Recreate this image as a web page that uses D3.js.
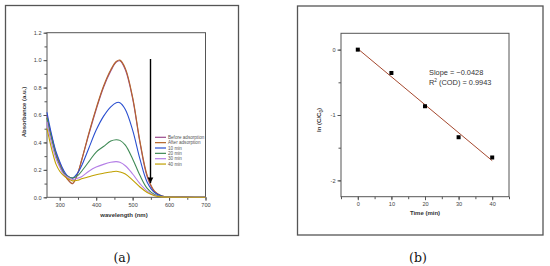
<!DOCTYPE html>
<meta charset="utf-8">
<style>
  body { margin: 0; background: #fff; }
  svg { position: absolute; left: 0; top: 0; }
  text { font-family: Arial, "Liberation Sans", sans-serif; fill: #333; }
  .frame { fill: none; stroke: #555; stroke-width: 1.3px; }
  .box { fill: none; stroke: #555; stroke-width: 1px; }
  .tick line { stroke: #555; }
  .tick text { font-size: 5.6px; fill: #444; }
  .title { font-size: 6px; font-weight: bold; text-anchor: middle; }
  .cap { font-family: "DejaVu Serif", serif; font-size: 12.5px; fill: #111; text-anchor: middle; }
  .leg { font-size: 4.6px; fill: #555; }
</style>
<script src="https://d3js.org/d3.v7.min.js"></script>
<svg width="550" height="266"></svg>
<script>
  // panel (a) data
  var wavelength = [265, 270, 280, 290, 300, 310, 320, 335, 350, 360, 380, 400, 420, 440, 455, 465, 480, 500, 520, 540, 560, 580, 600, 650, 700];
  var beforeAds = [0.60, 0.53, 0.42, 0.32, 0.25, 0.19, 0.14, 0.10, 0.18, 0.27, 0.46, 0.64, 0.80, 0.92, 0.985, 0.995, 0.93, 0.72, 0.40, 0.15, 0.04, 0.01, 0.003, 0.001, 0];
  var afterAds = [0.58, 0.52, 0.41, 0.31, 0.24, 0.18, 0.135, 0.10, 0.18, 0.27, 0.47, 0.65, 0.81, 0.93, 0.99, 1.0, 0.94, 0.73, 0.41, 0.16, 0.045, 0.01, 0.003, 0.001, 0];
  var min10 = [0.62, 0.55, 0.43, 0.33, 0.26, 0.20, 0.16, 0.14, 0.18, 0.23, 0.36, 0.49, 0.59, 0.66, 0.69, 0.69, 0.64, 0.49, 0.28, 0.11, 0.035, 0.01, 0.003, 0, 0];
  var min20 = [0.58, 0.51, 0.40, 0.30, 0.23, 0.18, 0.155, 0.14, 0.16, 0.19, 0.26, 0.33, 0.37, 0.41, 0.42, 0.415, 0.38, 0.28, 0.16, 0.065, 0.02, 0.006, 0.002, 0, 0];
  var min30 = [0.55, 0.48, 0.37, 0.28, 0.22, 0.17, 0.15, 0.13, 0.14, 0.15, 0.19, 0.22, 0.24, 0.255, 0.26, 0.255, 0.23, 0.17, 0.10, 0.045, 0.015, 0.004, 0.001, 0, 0];
  var min40 = [0.50, 0.44, 0.33, 0.24, 0.19, 0.16, 0.14, 0.12, 0.125, 0.135, 0.15, 0.165, 0.175, 0.185, 0.19, 0.185, 0.17, 0.125, 0.075, 0.035, 0.012, 0.003, 0.001, 0, 0];
  var seriesNames = ["Before adsorption", "After adsorption", "10 min", "20 min", "30 min", "40 min"];
  var seriesColors = ["#9a4a8c", "#b5652a", "#2a4fd0", "#3f8a55", "#b47ee6", "#c0a000"];
  var xTicksA = [300, 400, 500, 600, 700];
  var yTicksA = [0, 0.2, 0.4, 0.6, 0.8, 1.0, 1.2];

  // panel (b) data
  var time = [0, 10, 20, 30, 40];
  var lnC = [0, -0.357, -0.866, -1.34, -1.65];
  var slope = -0.0428, intercept = 0.013;
  var xTicksB = [0, 10, 20, 30, 40];
  var yTicksB = [0, -1, -2];

  var svg = d3.select("svg");

  // outer frames and captions
  svg.append("rect").attr("class", "frame").attr("x", 5.5).attr("y", 5.5).attr("width", 233).attr("height", 230);
  svg.append("rect").attr("class", "frame").attr("x", 297.5).attr("y", 6).attr("width", 245.5).attr("height", 229);
  svg.append("text").attr("class", "cap").attr("x", 122).attr("y", 262).text("(a)");
  svg.append("text").attr("class", "cap").attr("x", 418).attr("y", 262).text("(b)");

  // ---------- panel (a)
  var xa = d3.scaleLinear().domain([265, 700]).range([47, 205.5]);
  var ya = d3.scaleLinear().domain([0, 1.2]).range([197.3, 32.7]);
  var ga = svg.append("g");

  ga.append("g").attr("transform", "translate(0,197.3)")
    .call(d3.axisBottom(xa).tickValues(d3.range(300, 701, 50)).tickSize(2.5).tickFormat(""));
  ga.append("g").attr("transform", "translate(0,197.3)")
    .call(d3.axisBottom(xa).tickValues(xTicksA).tickSize(3.5).tickPadding(2).tickFormat(d3.format("d")))
    .select(".domain").remove();
  ga.append("g").attr("transform", "translate(47,0)")
    .call(d3.axisLeft(ya).tickValues(d3.range(0, 1.21, 0.1)).tickSize(2.5).tickFormat(""));
  ga.append("g").attr("transform", "translate(47,0)")
    .call(d3.axisLeft(ya).tickValues(yTicksA).tickSize(3.5).tickPadding(2).tickFormat(d3.format(".1f")))
    .select(".domain").remove();
  ga.selectAll(".domain").remove();
  ga.append("rect").attr("class", "box").attr("x", 47).attr("y", 32.7).attr("width", 158.5).attr("height", 164.6);

  var seriesA = [beforeAds, afterAds, min10, min20, min30, min40];
  var lineA = d3.line().x(function(d, i) { return xa(wavelength[i]); }).y(function(d) { return ya(d); })
    .curve(d3.curveCatmullRom);
  seriesA.forEach(function(s, k) {
    ga.append("path").attr("d", lineA(s)).attr("fill", "none")
      .attr("stroke", seriesColors[k]).attr("stroke-width", 1.1);
  });

  // arrow
  svg.append("defs").append("marker").attr("id", "ah").attr("viewBox", "0 0 10 10")
    .attr("refX", 10).attr("refY", 5).attr("markerWidth", 4).attr("markerHeight", 6)
    .attr("markerUnits", "strokeWidth").attr("orient", "auto")
    .append("path").attr("d", "M0,0L10,5L0,10Z").attr("fill", "#000");
  ga.append("line").attr("x1", 150.5).attr("x2", 150.5).attr("y1", 59).attr("y2", 183)
    .attr("stroke", "#000").attr("stroke-width", 1.4).attr("marker-end", "url(#ah)");

  // legend
  seriesNames.forEach(function(n, k) {
    var y = 137.3 + k * 5.35;
    ga.append("line").attr("x1", 155).attr("x2", 166).attr("y1", y).attr("y2", y)
      .attr("stroke", seriesColors[k]).attr("stroke-width", 1.2);
    ga.append("text").attr("class", "leg").attr("x", 168).attr("y", y + 1.6).text(n);
  });

  ga.append("text").attr("class", "title").attr("x", 124).attr("y", 217).text("wavelength (nm)");
  ga.append("text").attr("class", "title").attr("transform", "translate(26,112) rotate(-90)").text("Absorbance (a.u.)");

  // ---------- panel (b)
  var xb = d3.scaleLinear().domain([-5, 45]).range([341, 509]);
  var yb = d3.scaleLinear().domain([-2.25, 0.25]).range([196.7, 33.3]);
  var gb = svg.append("g");

  gb.append("g").attr("transform", "translate(0,196.7)")
    .call(d3.axisBottom(xb).tickValues(d3.range(-5, 46, 5)).tickSize(2.5).tickFormat(""));
  gb.append("g").attr("transform", "translate(0,196.7)")
    .call(d3.axisBottom(xb).tickValues(xTicksB).tickSize(3.5).tickPadding(2).tickFormat(d3.format("d")));
  gb.append("g").attr("transform", "translate(341,0)")
    .call(d3.axisLeft(yb).tickValues(d3.range(-2, 0.01, 0.5)).tickSize(2.5).tickFormat(""));
  gb.append("g").attr("transform", "translate(341,0)")
    .call(d3.axisLeft(yb).tickValues(yTicksB).tickSize(3.5).tickPadding(2).tickFormat(function(d) { return d === 0 ? "0" : "-" + Math.abs(d); }));
  gb.selectAll(".domain").remove();
  gb.append("rect").attr("class", "box").attr("x", 341).attr("y", 33.3).attr("width", 168).attr("height", 163.4);

  gb.append("line")
    .attr("x1", xb(time[0])).attr("y1", yb(intercept + slope * time[0]))
    .attr("x2", xb(time[4])).attr("y2", yb(intercept + slope * time[4]))
    .attr("stroke", "#a5482e").attr("stroke-width", 1);
  gb.selectAll(".pt").data(time).enter().append("rect")
    .attr("x", function(d) { return xb(d) - 2; })
    .attr("y", function(d, i) { return yb(lnC[i]) - 2; })
    .attr("width", 4).attr("height", 4).attr("fill", "#000");

  var ann = gb.append("text").attr("x", 429).attr("y", 75).style("font-size", "7.4px");
  ann.text("Slope = \u22120.0428");
  var ann2 = gb.append("text").attr("x", 429).attr("y", 85).style("font-size", "7.4px");
  ann2.append("tspan").text("R");
  ann2.append("tspan").attr("dy", -2.8).style("font-size", "4.8px").text("2");
  ann2.append("tspan").attr("dy", 2.8).text(" (COD) = 0.9943");

  gb.append("text").attr("class", "title").attr("x", 425).attr("y", 215).text("Time (min)");
  var yl = gb.append("text").attr("class", "title").attr("transform", "translate(321,120) rotate(-90)");
  yl.append("tspan").text("ln (C/C");
  yl.append("tspan").attr("dy", 1.5).style("font-size", "4.5px").text("0");
  yl.append("tspan").attr("dy", -1.5).text(")");
</script>
